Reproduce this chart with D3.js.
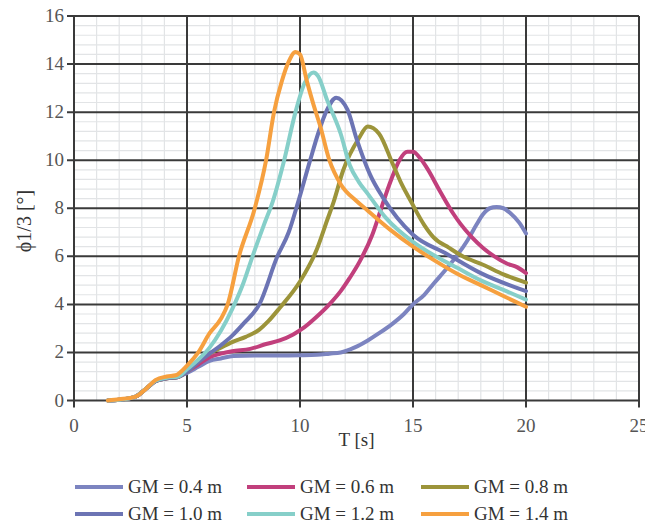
<!DOCTYPE html>
<html>
<head>
<meta charset="utf-8">
<script src="https://cdn.jsdelivr.net/npm/d3@7"></script>
<style>
  body { margin: 0; background: #fff; }
</style>
</head>
<body>
<svg width="645" height="525"></svg>
<script>
// values, T [s] and phi1/3 [deg]
var tGM04 = [1.5, 2.0, 2.7, 3.2, 3.6, 4.1, 4.6, 5.0, 5.5, 6.0, 6.5, 7.05, 8, 9, 10, 10.75, 11.3, 11.8, 12.4, 13.0, 13.5, 14.1, 14.6, 15, 15.5, 15.9, 16.5, 17, 17.4, 17.8, 18.1, 18.4, 18.7, 19.0, 19.3, 19.7, 20];
var vGM04 = [0, 0.03, 0.15, 0.5, 0.8, 0.92, 0.98, 1.15, 1.4, 1.65, 1.75, 1.85, 1.87, 1.87, 1.88, 1.9, 1.95, 2.0, 2.2, 2.5, 2.8, 3.2, 3.6, 4.0, 4.4, 4.85, 5.5, 6.1, 6.65, 7.3, 7.75, 8.0, 8.05, 8.0, 7.8, 7.4, 6.95];

var tGM06 = [1.5, 2.0, 2.7, 3.2, 3.6, 4.1, 4.6, 5.0, 5.5, 6.0, 6.5, 7.0, 7.8, 8.5, 9.1, 9.7, 10.2, 10.7, 11.3, 11.8, 12.2, 12.65, 13.2, 13.7, 14.0, 14.4, 14.75, 15.0, 15.3, 15.6, 16.2, 16.8, 17.1, 17.6, 18.1, 18.6, 19.15, 19.6, 20];
var vGM06 = [0, 0.03, 0.15, 0.5, 0.8, 0.92, 0.98, 1.2, 1.5, 1.8, 1.95, 2.05, 2.15, 2.35, 2.5, 2.75, 3.05, 3.45, 4.0, 4.55, 5.1, 5.8, 6.9, 8.3, 9.1, 10.0, 10.35, 10.35, 10.1, 9.7, 8.7, 7.75, 7.35, 6.8, 6.35, 6.0, 5.7, 5.55, 5.3];

var tGM08 = [1.5, 2.0, 2.7, 3.2, 3.6, 4.1, 4.6, 5.0, 5.5, 6.0, 6.5, 7.05, 7.6, 8.2, 8.6, 9.1, 10.0, 10.75, 11.2, 11.5, 11.9, 12.6, 13.0, 13.5, 14.1, 14.5, 14.9, 15.5, 15.9, 16.6, 17.2, 18.1, 19, 20];
var vGM08 = [0, 0.03, 0.15, 0.5, 0.8, 0.92, 0.98, 1.2, 1.6, 1.95, 2.2, 2.45, 2.65, 2.95, 3.3, 3.85, 4.95, 6.3, 7.5, 8.3, 9.55, 10.9, 11.4, 11.1, 9.85, 9.0, 8.3, 7.3, 6.8, 6.35, 6.0, 5.65, 5.25, 4.9];

var tGM10 = [1.5, 2.0, 2.7, 3.2, 3.6, 4.1, 4.6, 5.0, 5.5, 6.0, 6.5, 7.0, 7.5, 8.2, 9.0, 9.5, 9.9, 10.45, 10.8, 11.2, 11.6, 12.1, 12.5, 13.1, 13.7, 14.3, 15, 16.5, 18, 20];
var vGM10 = [0, 0.03, 0.15, 0.5, 0.8, 0.92, 0.98, 1.2, 1.6, 1.95, 2.3, 2.7, 3.2, 4.0, 6.0, 7.0, 8.2, 10.0, 11.1, 12.1, 12.6, 12.1, 10.9, 9.4, 8.4, 7.6, 6.9, 6.1, 5.3, 4.55];

var tGM12 = [1.5, 2.0, 2.7, 3.2, 3.6, 4.1, 4.6, 5.0, 5.5, 6.0, 6.5, 7.0, 7.5, 7.9, 8.4, 8.8, 9.3, 9.8, 10.2, 10.6, 10.8, 11.2, 11.8, 12.2, 12.6, 13.0, 13.8, 15, 16, 17, 18, 19, 20];
var vGM12 = [0, 0.03, 0.15, 0.5, 0.82, 0.95, 1.0, 1.3, 1.7, 2.2, 2.9, 3.8, 4.9, 6.0, 7.3, 8.3, 10.0, 12.0, 13.2, 13.65, 13.5, 12.5, 11.1, 9.8, 9.1, 8.6, 7.6, 6.6, 6.0, 5.5, 5.0, 4.6, 4.2];

var tGM14 = [1.5, 2.0, 2.7, 3.2, 3.6, 4.1, 4.5, 5.0, 5.5, 6.0, 6.5, 6.8, 7.3, 8.0, 8.5, 8.85, 9.2, 9.5, 9.8, 10.0, 10.3, 10.6, 10.9, 11.3, 11.8, 12.5, 13.0, 14, 15, 16, 17, 18, 19, 20];
var vGM14 = [0, 0.05, 0.15, 0.5, 0.85, 1.0, 1.05, 1.45, 2.0, 2.8, 3.4, 4.0, 6.0, 8.0, 10.0, 12.0, 13.3, 14.1, 14.5, 14.4, 13.3, 12.3, 11.4, 10.0, 9.0, 8.3, 7.9, 7.1, 6.4, 5.8, 5.25, 4.8, 4.35, 3.9];

var seriesNames = ["GM = 0.4 m", "GM = 0.6 m", "GM = 0.8 m", "GM = 1.0 m", "GM = 1.2 m", "GM = 1.4 m"];
var seriesColors = ["#7c84c0", "#c13f7c", "#9c943a", "#6c74b4", "#86cfc9", "#f6a03f"];
var seriesT = [tGM04, tGM06, tGM08, tGM10, tGM12, tGM14];
var seriesV = [vGM04, vGM06, vGM08, vGM10, vGM12, vGM14];

var xTicks = [0, 5, 10, 15, 20, 25];
var yTicks = [0, 2, 4, 6, 8, 10, 12, 14, 16];

var serif = "'Liberation Serif', 'Times New Roman', serif";

var svg = d3.select("svg")
    .style("font-family", serif),
    margin = {left: 74, right: 6, top: 16, bottom: 125},
    width = +svg.attr("width"),
    height = +svg.attr("height");

var x = d3.scaleLinear()
    .domain([0, 25])
    .range([margin.left, width - margin.right]);

var y = d3.scaleLinear()
    .domain([0, 16])
    .range([height - margin.bottom + 0.5, margin.top]);

var grid = svg.append("g");

// minor grid
grid.selectAll("line.minx")
  .data(d3.range(0, 25.01, 1).filter(function(d) { return d % 5 !== 0; }))
  .enter().append("line")
    .attr("x1", function(d) { return x(d); })
    .attr("x2", function(d) { return x(d); })
    .attr("y1", y(0)).attr("y2", y(16))
    .attr("stroke", "#e2e4e6").attr("stroke-width", 1.2);

grid.selectAll("line.miny")
  .data(d3.range(0, 16.01, 0.4).filter(function(d) { return Math.abs(d / 2 - Math.round(d / 2)) > 0.01; }))
  .enter().append("line")
    .attr("y1", function(d) { return y(d); })
    .attr("y2", function(d) { return y(d); })
    .attr("x1", x(0)).attr("x2", x(25))
    .attr("stroke", "#e2e4e6").attr("stroke-width", 1.2);

// major grid
grid.selectAll("line.majx")
  .data(xTicks)
  .enter().append("line")
    .attr("x1", function(d) { return x(d); })
    .attr("x2", function(d) { return x(d); })
    .attr("y1", y(0) + 7).attr("y2", y(16))
    .attr("stroke", "#3a3a3a").attr("stroke-width", 2);

grid.selectAll("line.majy")
  .data(yTicks)
  .enter().append("line")
    .attr("y1", function(d) { return y(d); })
    .attr("y2", function(d) { return y(d); })
    .attr("x1", x(0) - 7).attr("x2", x(25))
    .attr("stroke", "#3a3a3a").attr("stroke-width", 2);

// tick labels
svg.append("g").selectAll("text")
  .data(xTicks)
  .enter().append("text")
    .attr("x", function(d) { return x(d); })
    .attr("y", y(0) + 31)
    .attr("text-anchor", "middle")
    .attr("font-size", 19)
    .attr("fill", "#555")
    .text(function(d) { return d; });

svg.append("g").selectAll("text")
  .data(yTicks)
  .enter().append("text")
    .attr("x", x(0) - 10)
    .attr("y", function(d) { return y(d) + 6; })
    .attr("text-anchor", "end")
    .attr("font-size", 19)
    .attr("fill", "#555")
    .text(function(d) { return d; });

svg.append("text")
    .attr("x", (x(0) + x(25)) / 2)
    .attr("y", 446)
    .attr("text-anchor", "middle")
    .attr("font-size", 19)
    .attr("fill", "#333")
    .text("T [s]");

svg.append("text")
    .attr("transform", "translate(31,221) rotate(-90)")
    .attr("text-anchor", "middle")
    .attr("font-size", 20)
    .attr("fill", "#333")
    .text("ϕ1/3 [°]");

// curves
var line = d3.line()
    .x(function(d) { return x(d[0]); })
    .y(function(d) { return y(d[1]); })
    .curve(d3.curveMonotoneX);

svg.append("g").selectAll("path")
  .data(seriesNames.map(function(n, i) { return d3.zip(seriesT[i], seriesV[i]); }))
  .enter().append("path")
    .attr("d", line)
    .attr("fill", "none")
    .attr("stroke", function(d, i) { return seriesColors[i]; })
    .attr("stroke-width", 4)
    .attr("stroke-linejoin", "round")
    .attr("stroke-linecap", "round");

// legend
var leg = svg.append("g").selectAll("g")
  .data(seriesNames)
  .enter().append("g")
    .attr("transform", function(d, i) {
      var cx = [75, 247, 421][i % 3], cy = i < 3 ? 487 : 514;
      return "translate(" + cx + "," + cy + ")";
    });

leg.append("line")
    .attr("x1", 0).attr("x2", 48)
    .attr("stroke", function(d, i) { return seriesColors[i]; })
    .attr("stroke-width", 4);

leg.append("text")
    .attr("x", 53)
    .attr("y", 6)
    .attr("font-size", 19)
    .attr("fill", "#333")
    .text(function(d) { return d; });
</script>
</body>
</html>
